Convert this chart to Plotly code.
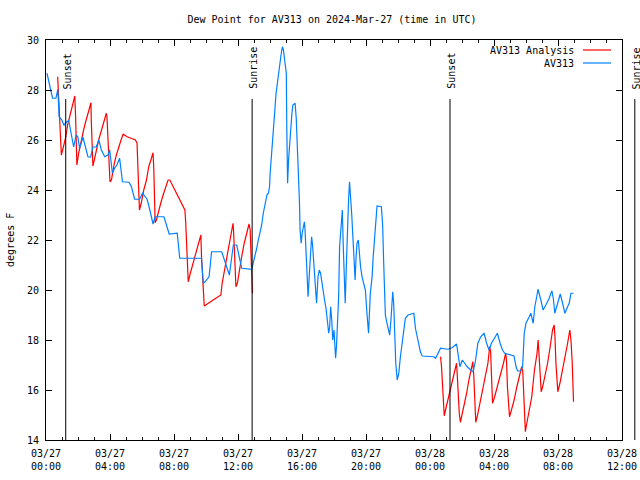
import pandas as pd
import plotly.graph_objects as go

# ---------------- data ----------------
START = "2024-03-27 00:00"
END = "2024-03-28 12:00"

# AV313 observations: hours after 2024-03-27 00:00 UTC, dew point (F)
obs_hours = [0.06, 0.30, 0.41, 0.62, 0.74, 0.82, 0.99, 1.13, 1.22, 1.42, 1.53, 1.73, 1.88, 1.99,
             2.10, 2.21, 2.31, 2.62, 2.79, 2.93, 3.14, 3.30, 3.46, 3.67, 3.87, 3.98, 4.15, 4.29,
             4.43, 4.60, 4.78, 5.19, 5.34, 5.54, 5.85, 6.03, 6.32, 6.49, 6.69, 6.82, 7.37, 7.70,
             8.20, 8.36, 9.72, 9.83, 9.94, 10.19, 10.35, 10.98, 11.46, 11.71, 11.92, 12.12, 12.23,
             12.86, 12.96, 13.17, 13.27, 13.38, 13.48, 13.58, 13.69, 13.81, 13.90, 13.97, 14.01,
             14.07, 14.15, 14.24, 14.32, 14.38, 14.46, 14.53, 14.63, 14.69, 14.77, 14.84, 14.94,
             15.02, 15.05, 15.10, 15.16, 15.22, 15.28, 15.37, 15.43, 15.57, 15.64, 15.72, 15.78,
             15.84, 15.88, 15.95, 16.01, 16.09, 16.15, 16.19, 16.26, 16.32, 16.38, 16.45, 16.53,
             16.60, 16.66, 16.72, 16.79, 16.85, 16.91, 17.00, 17.08, 17.16, 17.25, 17.33, 17.41,
             17.50, 17.58, 17.67, 17.73, 17.79, 17.86, 17.92, 18.00, 18.04, 18.10, 18.16, 18.23,
             18.29, 18.35, 18.45, 18.52, 18.58, 18.64, 18.70, 18.77, 18.83, 18.91, 18.97, 19.04,
             19.11, 19.19, 19.25, 19.32, 19.38, 19.44, 19.52, 19.58, 19.66, 19.75, 19.96, 20.06,
             20.16, 20.27, 20.38, 20.45, 20.53, 20.59, 20.69, 20.96, 21.04, 21.10, 21.15, 21.21,
             21.31, 21.41, 21.48, 21.56, 21.63, 21.67, 21.73, 21.80, 21.86, 21.95, 22.05, 22.15,
             22.26, 22.36, 22.46, 22.63, 22.99, 23.09, 23.24, 23.40, 23.51, 24.23, 24.35, 24.49,
             24.66, 25.11, 25.38, 25.66, 25.77, 25.87, 26.02, 26.16, 26.33, 26.54, 26.70, 26.85,
             26.99, 27.17, 27.38, 27.54, 27.69, 27.84, 28.00, 28.21, 28.38, 28.53, 28.67, 29.25,
             29.38, 29.47, 29.64, 29.79, 29.89, 30.00, 30.20, 30.30, 30.45, 30.55, 30.67, 30.75,
             30.93, 31.07, 31.24, 31.45, 31.62, 31.72, 31.80, 31.97, 32.14, 32.29, 32.43, 32.60,
             32.70, 32.81, 32.97]
obs_dewpt = [28.67, 28.00, 27.67, 27.67, 28.02, 26.93, 26.80, 26.58, 26.69, 26.78, 26.36, 25.72, 26.20, 26.13,
             25.67, 25.87, 26.11, 25.33, 25.32, 25.72, 25.72, 26.00, 25.60, 25.33, 25.40, 25.60, 24.67, 24.87,
             25.00, 25.27, 24.33, 24.31, 24.13, 23.63, 23.63, 23.87, 23.63, 23.20, 22.64, 22.93, 22.93, 22.24,
             22.27, 21.27, 21.27, 20.27, 20.33, 20.53, 21.53, 21.53, 20.60, 21.80, 21.80, 21.20, 20.87,
             20.83, 21.07, 21.67, 22.00, 22.27, 22.60, 23.07, 23.47, 23.80, 23.87, 24.13, 24.67,
             25.20, 26.13, 26.80, 27.33, 27.87, 28.27, 28.67, 29.07, 29.40, 29.73, 29.60, 29.07,
             28.67, 26.47, 24.27, 25.20, 25.87, 26.47, 27.07, 27.40, 27.47, 26.87, 25.73, 24.60,
             23.53, 22.40, 21.87, 22.27, 22.60, 22.73, 22.40, 21.47, 20.60, 19.73, 20.53, 21.20,
             22.13, 21.80, 21.27, 20.80, 19.87, 19.47, 20.53, 20.80, 20.67, 20.20, 19.93, 19.60,
             19.27, 18.87, 18.27, 18.53, 19.33, 18.80, 18.00, 18.40, 17.60, 17.27, 17.80, 18.80,
             19.73, 21.73, 22.67, 23.20, 21.73, 20.67, 19.47, 20.93, 22.27, 23.60, 24.33, 23.73,
             23.00, 22.00, 21.20, 20.40, 21.33, 21.87, 22.00, 21.47, 20.93, 20.53, 20.00, 19.07,
             18.27, 19.87, 20.53, 21.33, 22.00, 22.53, 23.36, 23.33, 22.60, 21.20, 19.73, 19.00,
             18.67, 18.40, 18.20, 18.80, 19.60, 19.93, 19.47, 17.73, 17.07, 16.40, 16.67, 17.33,
             17.87, 18.53, 18.87, 19.00, 19.07, 18.47, 18.00, 17.53, 17.36, 17.33, 17.27, 17.47,
             17.67, 17.63, 17.69, 17.84, 17.33, 16.93, 17.20, 17.07, 16.93, 16.80, 16.73, 17.20,
             17.87, 18.13, 18.27, 17.87, 17.60, 17.87, 18.07, 18.27, 17.87, 17.60, 17.47, 17.36,
             16.93, 16.76, 16.76, 16.93, 18.27, 18.67, 18.93, 19.07, 18.67, 19.33, 19.73, 20.03,
             19.60, 19.20, 19.40, 19.67, 19.97, 19.60, 19.07, 19.47, 19.84, 19.47, 19.07, 19.33,
             19.47, 19.87, 19.87]

# AV313 Analysis (two runs, gap between them)
ana_hours_1 = [0.73, 0.83, 0.89, 0.96, 1.04, 1.14, 1.24, 1.35, 1.47, 1.62, 1.72, 1.80, 1.85, 1.89,
               1.93, 2.04, 2.19, 2.35, 2.48, 2.60, 2.73, 2.81, 2.83, 2.87, 2.93, 3.02, 3.14, 3.29,
               3.44, 3.61, 3.77, 3.81, 3.87, 3.94, 4.00, 4.09, 4.17, 4.27, 4.40, 4.54, 4.69, 4.82,
               5.07, 5.32, 5.59, 5.69, 5.75, 5.84, 5.95, 6.11, 6.28, 6.42, 6.59, 6.69, 6.74, 6.78,
               6.82, 6.90, 7.00, 7.17, 7.32, 7.47, 7.63, 7.74, 8.05, 8.47, 8.68, 8.73, 8.79, 8.83,
               8.89, 8.99, 9.14, 9.30, 9.47, 9.62, 9.68, 9.72, 9.78, 9.83, 9.89, 10.45, 10.93, 11.01,
               11.12, 11.25, 11.40, 11.52, 11.61, 11.69, 11.73, 11.81, 11.87, 11.96, 12.08, 12.23,
               12.39, 12.55, 12.69, 12.76, 12.82, 12.86, 12.90]
ana_dewpt_1 = [28.53, 26.93, 26.00, 25.40, 25.60, 25.87, 26.13, 26.60, 26.93, 27.33, 27.60, 27.76, 26.93, 26.00,
               25.00, 25.47, 26.00, 26.40, 26.73, 27.00, 27.33, 27.49, 26.80, 25.73, 24.96, 25.20, 25.60, 26.00,
               26.33, 26.67, 27.07, 26.93, 26.00, 25.20, 24.33, 24.40, 24.80, 25.07, 25.40, 25.73, 26.00, 26.23,
               26.13, 26.07, 26.00, 25.87, 24.53, 23.20, 23.47, 24.00, 24.40, 24.93, 25.27, 25.49, 24.80, 23.73,
               22.69, 22.80, 23.07, 23.47, 23.80, 24.13, 24.40, 24.40, 24.00, 23.47, 23.20, 22.73, 21.73, 20.80,
               20.33, 20.60, 20.93, 21.27, 21.73, 22.07, 22.20, 21.33, 20.40, 19.80, 19.36, 19.60, 19.80, 20.27,
               20.67, 21.07, 21.60, 22.07, 22.40, 22.67, 22.27, 21.07, 20.13, 20.27, 20.80, 21.33,
               21.87, 22.27, 22.64, 22.40, 21.33, 20.40, 19.87]
ana_hours_2 = [24.66, 24.72, 24.79, 24.85, 24.89, 24.97, 25.07, 25.17, 25.28, 25.45, 25.60, 25.66, 25.71, 25.77,
               25.83, 25.90, 25.98, 26.12, 26.29, 26.43, 26.58, 26.68, 26.74, 26.80, 26.86, 26.95, 27.12, 27.29,
               27.46, 27.62, 27.73, 27.79, 27.83, 27.87, 27.91, 28.04, 28.21, 28.42, 28.59, 28.73, 28.78, 28.84,
               28.90, 28.97, 29.09, 29.26, 29.43, 29.58, 29.73, 29.80, 29.86, 29.90, 29.96, 30.05, 30.21, 30.36,
               30.53, 30.69, 30.76, 30.83, 30.89, 30.95, 31.04, 31.18, 31.35, 31.51, 31.66, 31.76, 31.81, 31.87,
               31.93, 31.99, 32.12, 32.29, 32.43, 32.60, 32.74, 32.81, 32.89, 32.93, 32.97]
ana_dewpt_2 = [17.33, 16.93, 16.13, 15.33, 14.97, 15.20, 15.47, 15.80, 16.13, 16.60, 16.93, 17.07, 16.53, 15.60,
               15.07, 14.71, 14.93, 15.33, 15.87, 16.40, 16.80, 17.13, 16.53, 15.60, 14.71, 14.93, 15.47, 16.00,
               16.53, 17.07, 17.73, 17.53, 16.80, 16.00, 15.47, 15.73, 16.13, 16.67, 17.07, 17.47, 17.20, 16.13,
               15.47, 14.93, 15.20, 15.60, 16.13, 16.53, 16.93, 16.73, 15.73, 14.93, 14.33, 14.67, 15.20, 15.73,
               16.80, 17.47, 18.00, 17.33, 16.53, 15.93, 16.13, 16.53, 17.07, 17.73, 18.40, 18.60, 18.13, 17.07,
               16.27, 15.93, 16.27, 16.80, 17.33, 17.87, 18.40, 18.00, 17.07, 16.00, 15.53]

# Sun events (UTC)
sun_labels = ["Sunset", "Sunrise", "Sunset", "Sunrise"]
sun_times = ["2024-03-27 01:14", "2024-03-27 12:53", "2024-03-28 01:15", "2024-03-28 12:48"]

# Axis ticks
x_tick_times = ["2024-03-27 00:00", "2024-03-27 04:00", "2024-03-27 08:00", "2024-03-27 12:00",
                "2024-03-27 16:00", "2024-03-27 20:00", "2024-03-28 00:00", "2024-03-28 04:00",
                "2024-03-28 08:00", "2024-03-28 12:00"]
x_tick_labels = ["03/27<br>00:00", "03/27<br>04:00", "03/27<br>08:00", "03/27<br>12:00",
                 "03/27<br>16:00", "03/27<br>20:00", "03/28<br>00:00", "03/28<br>04:00",
                 "03/28<br>08:00", "03/28<br>12:00"]
y_ticks = [14, 16, 18, 20, 22, 24, 26, 28, 30]

# ---------------- figure ----------------
t0 = pd.Timestamp(START)
t1 = pd.Timestamp(END)


def to_time(hours):
    return [t0 + pd.Timedelta(hours=h) for h in hours]


RED = "#ff0000"
BLUE = "#0080ff"
FONT = "DejaVu Sans Mono"

fig = go.Figure()
ana_x = to_time(ana_hours_1) + [None] + to_time(ana_hours_2)
ana_y = ana_dewpt_1 + [None] + ana_dewpt_2
fig.add_trace(go.Scatter(x=ana_x, y=ana_y, mode="lines", name="AV313 Analysis",
                         line=dict(color=RED, width=1.2), connectgaps=False))
fig.add_trace(go.Scatter(x=to_time(obs_hours), y=obs_dewpt, mode="lines", name="AV313",
                         line=dict(color=BLUE, width=1.2)))

span = (t1 - t0).total_seconds()
for lab, ts in zip(sun_labels, sun_times):
    fx = (pd.Timestamp(ts) - t0).total_seconds() / span
    fig.add_shape(type="line", xref="paper", yref="paper", x0=fx, x1=fx, y0=0, y1=0.8525,
                  line=dict(color="black", width=1))
    fig.add_annotation(x=fx, y=0.872, xref="paper", yref="paper", text=lab, textangle=-90,
                       showarrow=False, xanchor="center", yanchor="bottom", xshift=1.5,
                       font=dict(family=FONT, size=10, color="black"))

# legend drawn gnuplot-style (text then sample)
legend_items = [("AV313 Analysis", RED, 0.975), ("AV313", BLUE, 0.9425)]
for txt, col, ly in legend_items:
    fig.add_annotation(x=0.921, y=ly, xref="paper", yref="paper", text=txt, showarrow=False,
                       xanchor="right", yanchor="middle", font=dict(family=FONT, size=10, color="black"))
    fig.add_shape(type="line", xref="paper", yref="paper", x0=0.9322, x1=0.981, y0=ly, y1=ly,
                  line=dict(color=col, width=1.2))

# y-axis title
fig.add_annotation(x=-0.0626, y=0.5, xref="paper", yref="paper", text="degrees F", textangle=-90,
                   showarrow=False, xanchor="center", yanchor="middle",
                   font=dict(family=FONT, size=10, color="black"))

fig.update_layout(
    width=640, height=480,
    margin=dict(l=46, r=18, t=40, b=40, autoexpand=False),
    paper_bgcolor="white", plot_bgcolor="white",
    showlegend=False,
    font=dict(family=FONT, size=10, color="black"),
    title=dict(text="Dew Point for AV313 on 2024-Mar-27 (time in UTC)", x=0.4965, xref="paper",
               y=1 - 19 / 480, yref="container", xanchor="center", yanchor="middle",
               font=dict(family=FONT, size=10, color="black")),
)
fig.update_xaxes(
    type="date", range=[START, END], tickvals=x_tick_times, ticktext=x_tick_labels,
    ticks="inside", ticklen=6, tickcolor="black", showline=True, linecolor="black", linewidth=1,
    mirror="ticks", showgrid=False, zeroline=False, ticklabelstandoff=4, automargin=False,
    minor=dict(dtick=3600000, ticks="inside", ticklen=3, tickcolor="black", showgrid=False),
    tickfont=dict(family=FONT, size=10, color="black"),
)
fig.update_yaxes(
    range=[14, 30], tickvals=y_ticks, ticks="inside", ticklen=6, tickcolor="black",
    showline=True, linecolor="black", linewidth=1, mirror="ticks", showgrid=False, zeroline=False,
    ticklabelstandoff=4, automargin=False, tickfont=dict(family=FONT, size=10, color="black"),
)

fig.write_html("out.html", config={"displayModeBar": False},
               post_script="document.body.style.margin='0px';")
